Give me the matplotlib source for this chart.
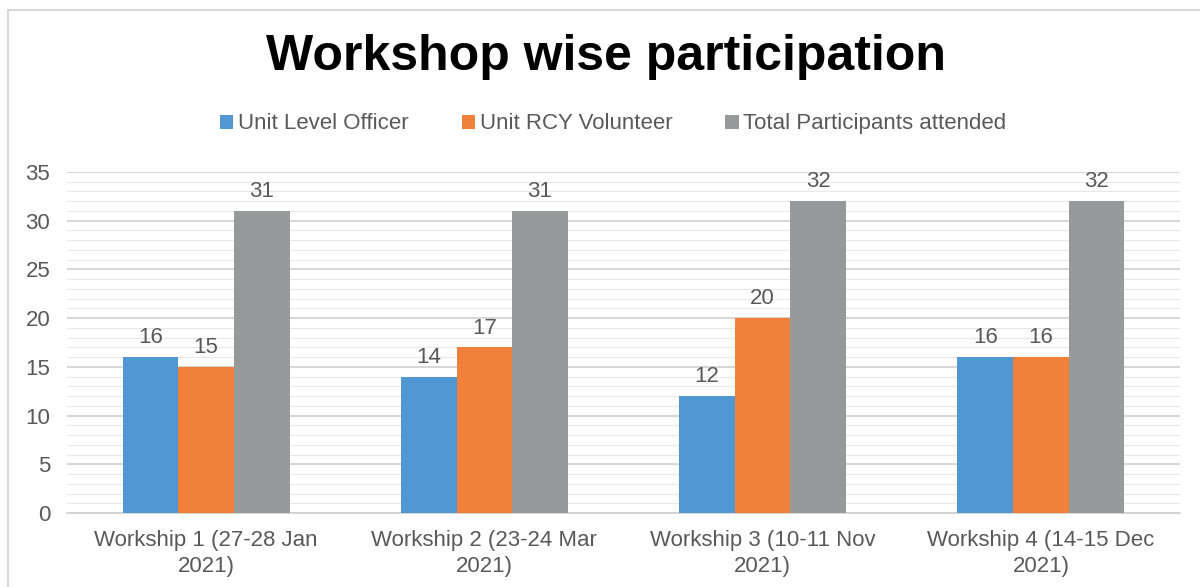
import matplotlib.pyplot as plt
import numpy as np
from matplotlib.patches import Rectangle
from matplotlib.ticker import MultipleLocator

plt.rcParams['font.family'] = ['Liberation Sans', 'DejaVu Sans']

# Data
workshops = ['Workship 1 (27-28 Jan\n2021)', 'Workship 2 (23-24 Mar\n2021)',
             'Workship 3 (10-11 Nov\n2021)', 'Workship 4 (14-15 Dec\n2021)']
series_names = ['Unit Level Officer', 'Unit RCY Volunteer', 'Total Participants attended']
unit_officer = [16, 14, 12, 16]
rcy_volunteer = [15, 17, 20, 16]
total_attended = [31, 31, 32, 32]
colors = ['#5097d3', '#f0803a', '#979a9a']

text_color = '#595959'

fig = plt.figure(figsize=(12, 5.87), dpi=100)
ax = fig.add_axes([67 / 1200, 1 - 513 / 587, (1180 - 67) / 1200, (513 - 172) / 587])

# chart frame
fig.patches.append(Rectangle((8 / 1200, -0.01), 1.2, 1 - 10 / 587 + 0.01,
                             transform=fig.transFigure, fill=False,
                             edgecolor='#d0d0d0', linewidth=1.2))

x = np.arange(len(workshops))
bar_width = 0.2
all_series = [unit_officer, rcy_volunteer, total_attended]
for i, (vals, name, c) in enumerate(zip(all_series, series_names, colors)):
    rects = ax.bar(x + (i - 1) * bar_width, vals, bar_width, color=c, label=name, zorder=3)
    for r, v in zip(rects, vals):
        ax.text(r.get_x() + r.get_width() / 2, v + 0.9, f'{v}', ha='center', va='bottom',
                fontsize=16, color=text_color, zorder=4)

ax.set_xlim(-0.5, len(workshops) - 0.5)
ax.set_ylim(0, 35)
ax.yaxis.set_major_locator(MultipleLocator(5))
ax.yaxis.set_minor_locator(MultipleLocator(1))
ax.grid(which='major', axis='y', color='#d0d0d0', linewidth=1.2, zorder=0)
ax.grid(which='minor', axis='y', color='#e8e8e8', linewidth=0.9, zorder=0)
ax.set_xticks(x)
ax.set_xticklabels(workshops, fontsize=16, color=text_color, linespacing=1.35)
ax.tick_params(axis='y', labelsize=16, labelcolor=text_color, length=0, pad=12)
ax.tick_params(axis='x', length=0, pad=12)
ax.tick_params(which='minor', length=0)
for s in ['top', 'right', 'left']:
    ax.spines[s].set_visible(False)
ax.spines['bottom'].set_color('#d0d0d0')
ax.spines['bottom'].set_linewidth(1.2)

fig.text(0.505, 1 - 57 / 587, 'Workshop wise participation', ha='center', va='center',
         fontsize=36, fontweight='bold', color='black')

leg = fig.legend(loc='center', bbox_to_anchor=(0.511, 1 - 124 / 587), ncol=3, frameon=False,
                 fontsize=16, handlelength=0.6, handleheight=0.6, handletextpad=0.2,
                 columnspacing=2.4)
for t in leg.get_texts():
    t.set_color(text_color)

plt.savefig('out.png', dpi=100)
